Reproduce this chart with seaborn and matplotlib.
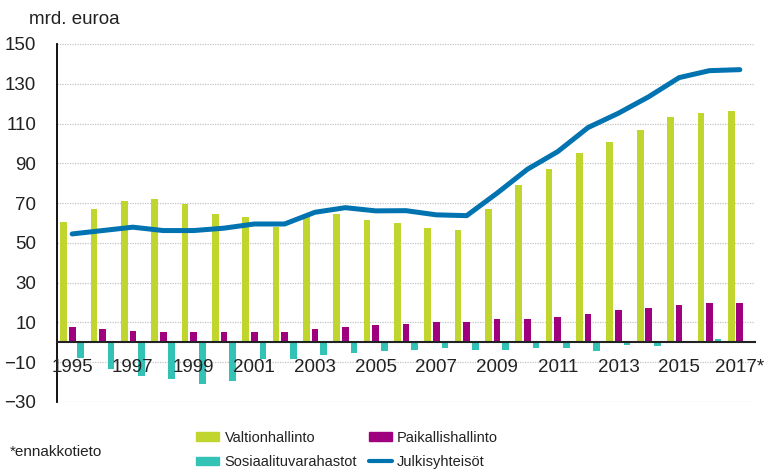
import numpy as np
import pandas as pd
import matplotlib
matplotlib.use('Agg')
import matplotlib.pyplot as plt
import seaborn as sns
from matplotlib.patches import Patch
from matplotlib.lines import Line2D

# data (billion euros)
years = [str(y) for y in range(1995, 2017)] + ['2017*']
valtio = [60.7, 67.1, 71.1, 72.0, 69.6, 64.7, 63.1, 58.2, 63.2, 64.7, 61.6, 59.9,
          57.4, 56.5, 67.1, 79.3, 87.2, 95.4, 100.9, 106.6, 113.2, 115.5, 116.3]
paikallis = [7.6, 6.6, 5.8, 5.1, 5.1, 5.1, 5.1, 5.1, 6.6, 7.6, 8.5, 9.1,
             10.0, 10.0, 11.6, 11.6, 12.5, 14.0, 16.3, 17.2, 18.8, 19.7, 19.7]
sosiaali = [-7.9, -13.5, -16.8, -18.3, -20.7, -19.2, -8.3, -8.5, -6.3, -5.4, -4.6, -4.1,
            -2.9, -3.8, -3.8, -2.9, -2.9, -4.6, -1.3, -1.8, 0.0, 1.7, 0.9]
julkis = [54.5, 56.2, 57.9, 56.2, 56.2, 57.4, 59.5, 59.5, 65.4, 67.7, 66.1, 66.2,
          64.1, 63.7, 75.0, 87.0, 95.9, 108.0, 115.2, 123.5, 133.1, 136.6, 137.1]
tick_labels = years[::2]

names = ['Valtionhallinto', 'Paikallishallinto', 'Sosiaalituvarahastot']
colors = ['#c0d62e', '#9e007e', '#33c2b6']
blue = '#0073b0'

df = pd.DataFrame({
    'year': years * 3,
    'series': np.repeat(names, len(years)),
    'value': valtio + paikallis + sosiaali,
})

sns.set_theme(style='white')
plt.rcParams['font.family'] = ['Liberation Sans', 'DejaVu Sans']

fig = plt.figure(figsize=(7.68, 4.76), dpi=100)
ax = fig.add_axes([57 / 768, 1 - 402 / 476, 698 / 768, 358 / 476])

sns.barplot(data=df, x='year', y='value', hue='series', hue_order=names,
            palette=colors, width=0.85, gap=0.22, saturation=1, linewidth=0,
            legend=False, ax=ax, zorder=2)
sns.lineplot(x=np.arange(len(years)), y=julkis, ax=ax, color=blue, lw=3.6,
             sort=False, zorder=3, solid_capstyle='round', solid_joinstyle='round')

ax.set_ylim(-30, 150)
ax.set_xlim(-0.5, len(years) - 0.5)
yt = np.arange(-30, 151, 20)
ax.set_yticks(yt)
for y in yt:
    ax.axhline(y, color='#c4c4c4', linestyle=(0, (1, 1)), lw=0.9, zorder=0.5)
ax.set_xticks(np.arange(0, len(years), 2))
ax.set_xticklabels(tick_labels)
ax.set_xlabel('')
ax.set_ylabel('')
ax.tick_params(axis='x', length=0, pad=12, labelsize=13.5, colors='#222222')
ax.tick_params(axis='y', length=0, pad=15, labelsize=13.5, colors='#222222')
ax.xaxis.set_zorder(5)

for s in ['top', 'right']:
    ax.spines[s].set_visible(False)
ax.spines['left'].set_color('black')
ax.spines['left'].set_linewidth(1.3)
ax.spines['bottom'].set_position(('data', 0))
ax.spines['bottom'].set_color('#222222')
ax.spines['bottom'].set_linewidth(1.5)
ax.spines['bottom'].set_zorder(4)

fig.text(29 / 768, 1 - 20 / 476, 'mrd. euroa', fontsize=13.5, va='center',
         color='#222222')
fig.text(10 / 768, 1 - 452 / 476, '*ennakkotieto', fontsize=11, va='center',
         color='#222222')

handles = [Patch(color=colors[0], label=names[0]),
           Patch(color=colors[2], label=names[2]),
           Patch(color=colors[1], label=names[1]),
           Line2D([], [], color=blue, lw=3, label='Julkisyhteisöt')]
fig.legend(handles=handles, ncol=2, loc='center left',
           bbox_to_anchor=(183 / 768, 1 - 450 / 476), frameon=False,
           fontsize=10.5, handlelength=1.6, handleheight=0.55,
           handletextpad=0.35, columnspacing=0.8, labelspacing=0.7,
           labelcolor='#222222')

fig.savefig('out.png', dpi=100)
